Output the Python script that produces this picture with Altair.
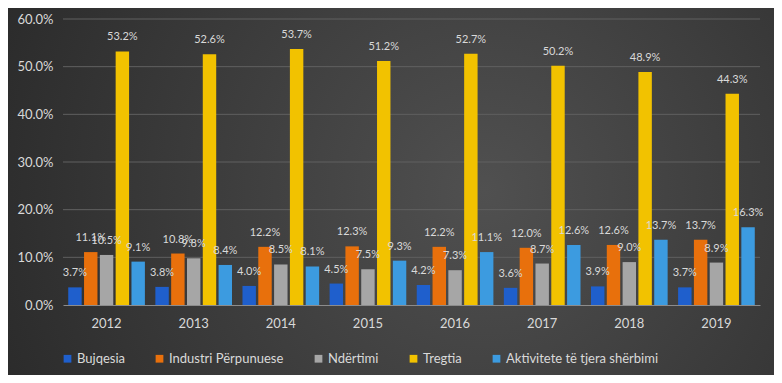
import altair as alt
import pandas as pd

years = ["2012", "2013", "2014", "2015", "2016", "2017", "2018", "2019"]
series = ["Bujqesia", "Industri Përpunuese", "Ndërtimi", "Tregtia", "Aktivitete të tjera shërbimi"]
bujqesia = [3.7, 3.8, 4.0, 4.5, 4.2, 3.6, 3.9, 3.7]
industri = [11.1, 10.8, 12.2, 12.3, 12.2, 12.0, 12.6, 13.7]
ndertimi = [10.5, 9.8, 8.5, 7.5, 7.3, 8.7, 9.0, 8.9]
tregtia = [53.2, 52.6, 53.7, 51.2, 52.7, 50.2, 48.9, 44.3]
aktivitete = [9.1, 8.4, 8.1, 9.3, 11.1, 12.6, 13.7, 16.3]
y_ticks = [0.0, 0.1, 0.2, 0.3, 0.4, 0.5, 0.6]
colors = ["#1f5fcc", "#e8700c", "#a6a6a6", "#f2c200", "#3c9be0"]

rows = []
for s, vals in zip(series, [bujqesia, industri, ndertimi, tregtia, aktivitete]):
    for y, v in zip(years, vals):
        rows.append({"year": y, "series": s, "value": v / 100.0})
df = pd.DataFrame(rows)
grid_df = pd.DataFrame({"value": y_ticks[1:]})

W, H = 697, 286
FONT = "Lato"

bg = alt.Chart(alt.Data(values=[{"a": 1}])).mark_rect(
    fill={
        "gradient": "radial",
        "x1": 0.62, "y1": 0.5, "r1": 0.0,
        "x2": 0.62, "y2": 0.5, "r2": 0.75,
        "stops": [
            {"offset": 0, "color": "#505050"},
            {"offset": 1, "color": "#262626"},
        ],
    },
    clip=False,
).encode(
    x=alt.value(-63), x2=alt.value(782 - 63),
    y=alt.value(-19), y2=alt.value(383 - 19),
)

yscale = alt.Scale(domain=[0, 0.6])
yaxis = alt.Axis(format=".1%", values=y_ticks,
                 ticks=False, domain=False, labelColor="#d9d9d9",
                 labelFont=FONT, labelFontSize=13, labelPadding=10,
                 grid=False, zindex=1)

grid = alt.Chart(grid_df).mark_rule(color="#606060", strokeWidth=1).encode(
    y=alt.Y("value:Q", scale=yscale, axis=yaxis, title=None),
    x=alt.value(0), x2=alt.value(W),
)

xenc = alt.X("year:N", sort=years, title=None,
             scale=alt.Scale(paddingInner=0.12, paddingOuter=0.06),
             axis=alt.Axis(labelAngle=0, ticks=False, domain=True, domainColor="#8c8c8c",
                           labelColor="#d9d9d9", labelFont=FONT, labelFontSize=13,
                           labelPadding=12, grid=False, zindex=1))
xoff = alt.XOffset("series:N", sort=series, scale=alt.Scale(paddingInner=0.15))
yenc = alt.Y("value:Q", title=None, scale=yscale, axis=yaxis)

bars = alt.Chart(df).mark_bar().encode(
    x=xenc, xOffset=xoff, y=yenc,
    color=alt.Color("series:N", sort=series,
                    scale=alt.Scale(domain=series, range=colors),
                    legend=alt.Legend(title=None, orient="none", direction="horizontal",
                                      legendX=-2, legendY=333, symbolType="square",
                                      symbolSize=60, symbolStrokeWidth=0,
                                      labelColor="#d9d9d9", labelFont=FONT, labelFontSize=13,
                                      columnPadding=28, labelOffset=3)),
)

labels = alt.Chart(df).mark_text(
    dy=-14, baseline="middle", font=FONT, fontSize=11, color="#d9d9d9"
).encode(
    x=alt.X("year:N", sort=years), xOffset=alt.XOffset("series:N", sort=series),
    y="value:Q",
    text=alt.Text("value:Q", format=".1%"),
)

chart = alt.layer(bg, grid, bars, labels).properties(
    width=W, height=H,
    autosize=alt.AutoSizeParams(type="none"),
    padding={"left": 55, "top": 11, "right": 14, "bottom": 70},
    background="#2e2e2e",
).configure_view(stroke=None)

chart.save("out.html", embed_options={"renderer": "svg", "actions": False})
